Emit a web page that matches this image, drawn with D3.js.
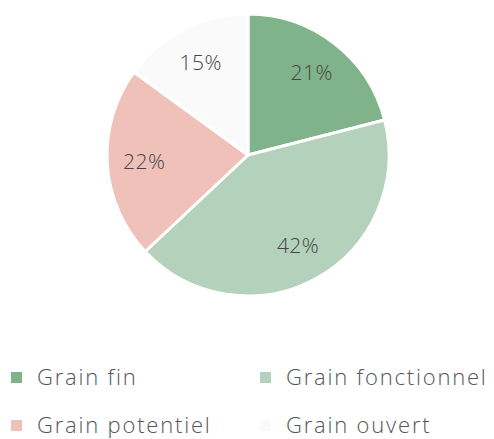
<!DOCTYPE html>
<html>
<head>
<meta charset="utf-8">
<script src="https://cdn.jsdelivr.net/npm/d3@7"></script>
<style>
  body { margin: 0; background: #fff; }
  svg text { font-family: "Open Sans", Lato, sans-serif; font-weight: 300; }
</style>
</head>
<body>
<svg id="chart" width="494" height="439"></svg>
<script>
const categories = ['Grain fin', 'Grain fonctionnel', 'Grain potentiel', 'Grain ouvert'];
const values = [21, 42, 22, 15];
const colors = ['#80b38a', '#b3d1bb', '#efc1b8', '#fafafa'];

const svg = d3.select('#chart');
const cx = 248, cy = 155, radius = 141;

const pie = d3.pie().sort(null).value(d => d.value);
const arc = d3.arc().innerRadius(0).outerRadius(radius);
const labelArc = d3.arc().innerRadius(104).outerRadius(104);

const data = categories.map((c, i) => ({ name: c, value: values[i], color: colors[i] }));
const arcs = pie(data);

const g = svg.append('g').attr('transform', `translate(${cx},${cy})`);

g.selectAll('path').data(arcs).enter().append('path')
  .attr('d', arc)
  .attr('fill', d => d.data.color)
  .attr('stroke', '#fff')
  .attr('stroke-width', 3)
  .attr('stroke-linejoin', 'round');

g.selectAll('text').data(arcs).enter().append('text')
  .attr('transform', d => `translate(${labelArc.centroid(d)})`)
  .attr('text-anchor', 'middle')
  .attr('dy', '0.35em')
  .attr('font-size', 21)
  .attr('letter-spacing', 0.5)
  .attr('fill', '#444')
  .text(d => d.data.value + '%');

// legend
const legend = svg.append('g');
const item = legend.selectAll('g').data(data).enter().append('g')
  .attr('transform', (d, i) => `translate(${i % 2 === 0 ? 11 : 260},${i < 2 ? 372 : 420})`);

item.append('rect')
  .attr('width', 11).attr('height', 11)
  .attr('fill', d => d.color);

item.append('text')
  .attr('x', 26).attr('y', 12.5)
  .attr('font-size', 22)
  .attr('letter-spacing', 1.8)
  .attr('fill', '#555')
  .text(d => d.name);
</script>
</body>
</html>
